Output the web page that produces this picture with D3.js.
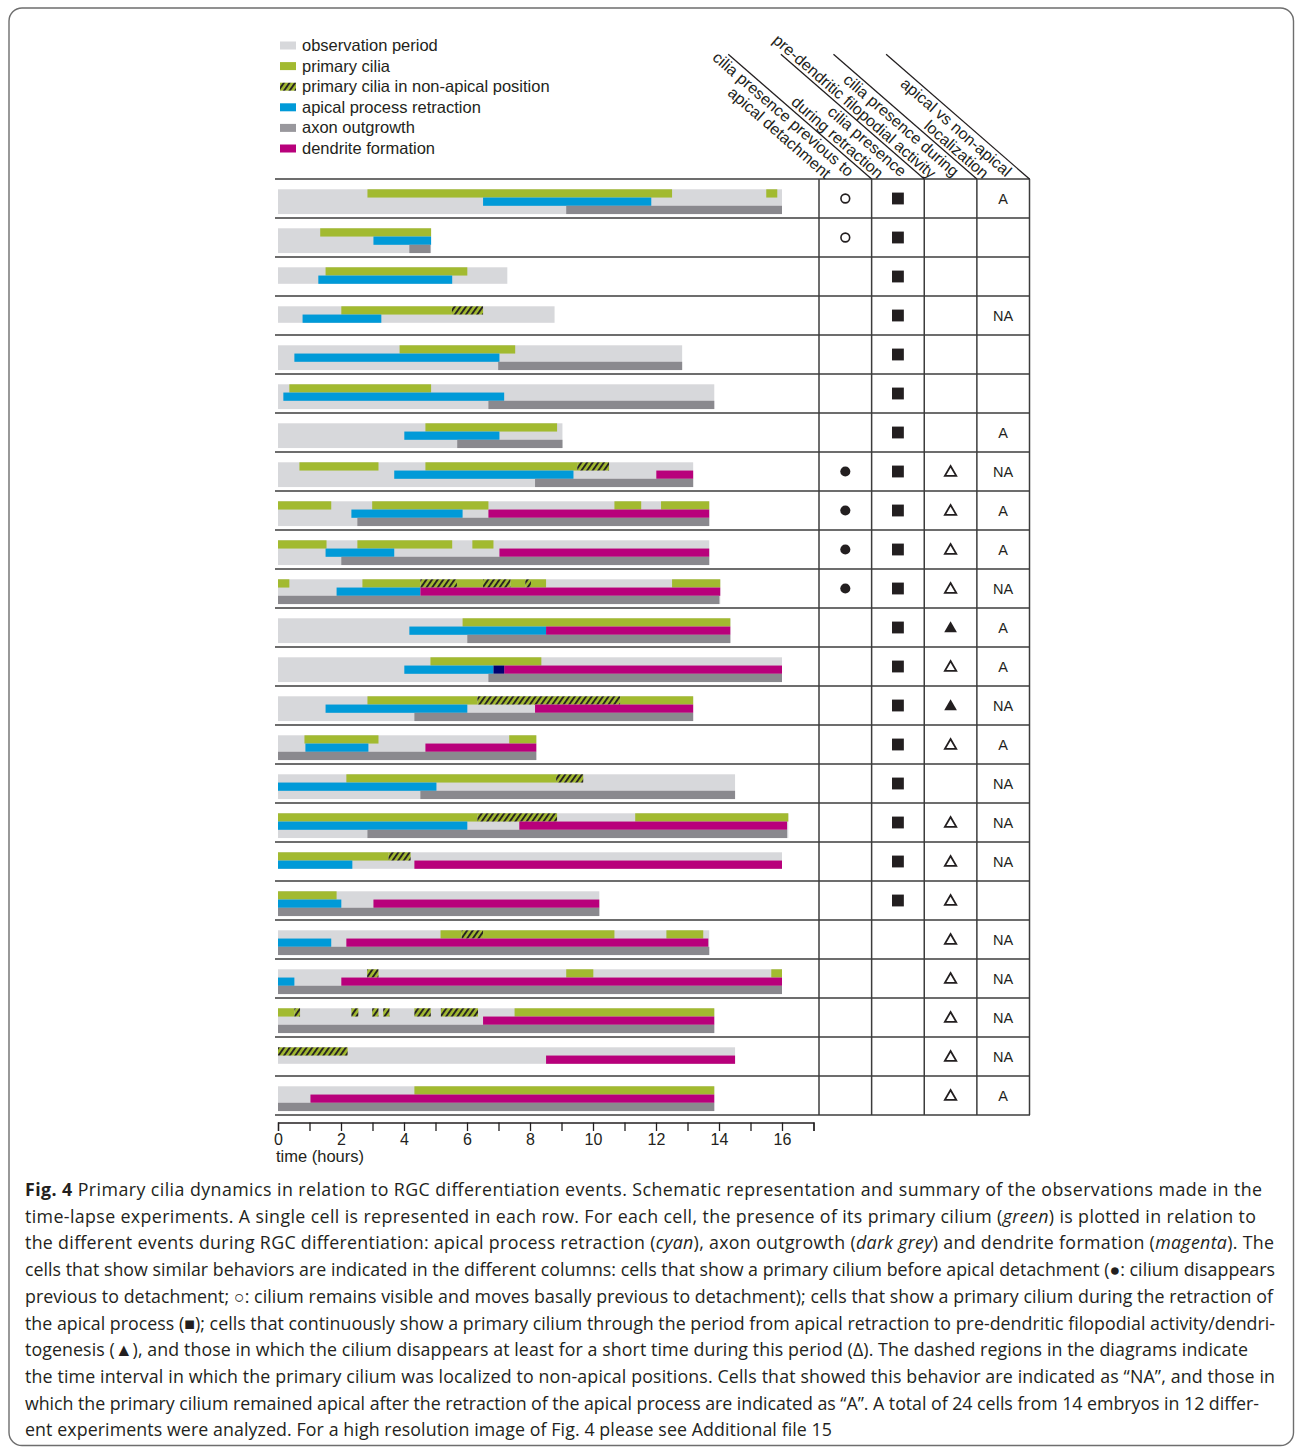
<!DOCTYPE html>
<html lang="en">
  <head>
    <meta charset="utf-8" />
    <title>Fig. 4 Primary cilia dynamics</title>
    <script src="https://d3js.org/d3.v7.min.js"></script>
    <style>
      body { margin: 0; background: #fff; }
      svg { display: block; }
      .chart text { font-family: "Liberation Sans", Arial, Helvetica, sans-serif; fill: #231f20; }
      .caption text { font-family: "Open Sans", "Noto Sans", sans-serif; fill: #231f20; white-space: pre; }
    </style>
  </head>
  <body>
    <script>
      // ---- data (hours), one entry per cell / row ----
      var obsEnd = [16, 4.86, 7.28, 8.78, 12.83, 13.85, 9.03, 13.18, 13.69, 13.69, 14.04, 14.36,
                    16, 13.18, 8.2, 14.51, 16.2, 16, 10.2, 13.69, 16, 13.85, 14.51, 13.85];

      var cilia = [
        [[2.84, 12.51], [15.5, 15.85]],
        [[1.34, 4.86]],
        [[1.51, 6.01]],
        [[2.01, 5.52]],
        [[3.86, 7.53]],
        [[0.36, 4.86]],
        [[4.68, 8.86]],
        [[0.68, 3.19], [4.68, 9.5]],
        [[0, 1.69], [2.99, 6.68], [10.68, 11.53], [12.16, 13.69]],
        [[0, 1.54], [2.52, 5.53], [6.17, 6.84]],
        [[0, 0.36], [2.68, 4.52], [5.68, 6.51], [7.38, 7.85], [8.03, 8.51], [12.51, 14.04]],
        [[5.86, 14.36]],
        [[4.84, 8.36]],
        [[2.84, 6.33], [10.86, 13.18]],
        [[0.84, 3.19], [7.34, 8.2]],
        [[2.17, 8.83]],
        [[0, 6.33], [11.34, 16.2]],
        [[0, 3.51]],
        [[0, 1.86]],
        [[5.16, 5.83], [6.51, 10.68], [12.33, 13.5]],
        [[9.15, 10.01], [15.66, 16]],
        [[0, 0.52], [7.51, 13.85]],
        [],
        [[4.33, 13.85]]
      ];

      // primary cilia in non-apical position (hatched)
      var nonApical = [
        [], [], [], [[5.52, 6.51]], [], [], [], [[9.5, 10.51]], [], [],
        [[4.52, 5.68], [6.51, 7.38], [7.85, 8.03]],
        [], [], [[6.33, 10.86]], [], [[8.83, 9.69]], [[6.33, 8.86]], [[3.51, 4.21]], [],
        [[5.83, 6.51]], [[2.83, 3.19]],
        [[0.52, 0.7], [2.33, 2.55], [2.99, 3.19], [3.34, 3.54], [4.33, 4.85], [5.17, 6.35]],
        [[0, 2.21]], []
      ];

      var retraction = [[6.51, 11.85], [3.03, 4.86], [1.28, 5.53], [0.78, 3.28], [0.52, 7.03],
                        [0.17, 7.18], [4.01, 7.03], [3.69, 9.38], [2.33, 5.86], [1.51, 3.69],
                        [1.86, 4.52], [4.17, 8.51], [4.01, 6.84], [1.51, 6.01], [0.87, 2.87],
                        [0, 5.03], [0, 6.01], [0, 2.36], [0, 2.01], [0, 1.69], [0, 0.52],
                        null, null, null];

      // short overlap of retraction and dendrite onset (row 13)
      var overlap = [null, null, null, null, null, null, null, null, null, null, null, null,
                     [6.84, 7.18], null, null, null, null, null, null, null, null, null, null, null];

      var dendrite = [null, null, null, null, null, null, null, [12.01, 13.18], [6.68, 13.69],
                      [7.03, 13.69], [4.52, 14.04], [8.51, 14.36], [7.18, 16], [8.16, 13.18],
                      [4.68, 8.2], null, [7.66, 16.16], [4.33, 16], [3.03, 10.2], [2.17, 13.66],
                      [2.01, 16], [6.51, 13.85], [8.51, 14.51], [1.03, 13.85]];

      var axon = [[9.15, 16], [4.17, 4.84], null, null, [6.99, 12.83], [6.68, 13.85], [5.69, 9.03],
                  [8.16, 13.18], [2.52, 13.69], [2.01, 13.69], [0, 14.01], [6.01, 14.36], [6.68, 16],
                  [4.33, 13.18], [0, 8.2], [4.52, 14.51], [2.84, 16.16], null, [0, 10.2], [0, 13.69],
                  [0, 16], [0, 13.85], null, [0, 13.85]];

      // ---- table columns ----
      var detachment = ["open", "open", null, null, null, null, null, "filled", "filled", "filled", "filled",
                        null, null, null, null, null, null, null, null, null, null, null, null, null];
      var duringRetraction = ["sq", "sq", "sq", "sq", "sq", "sq", "sq", "sq", "sq", "sq", "sq", "sq",
                              "sq", "sq", "sq", "sq", "sq", "sq", "sq", null, null, null, null, null];
      var filopodial = [null, null, null, null, null, null, null, "open", "open", "open", "open", "filled",
                        "open", "filled", "open", null, "open", "open", "open", "open", "open", "open", "open", "open"];
      var localization = ["A", "", "", "NA", "", "", "A", "NA", "A", "A", "NA", "A",
                          "A", "NA", "A", "NA", "NA", "NA", "", "NA", "NA", "NA", "NA", "A"];

      var headers = [
        ["cilia presence previous to", "apical detachment"],
        ["cilia presence", "during retraction"],
        ["cilia presence during", "pre-dendritic filopodial activity"],
        ["apical vs non-apical", "localization"]
      ];

      var legendLabels = ["observation period", "primary cilia", "primary cilia in non-apical position",
                          "apical process retraction", "axon outgrowth", "dendrite formation"];

      var tickLabels = [0, 2, 4, 6, 8, 10, 12, 14, 16];

      var captionLines = [
        "**Fig. 4** Primary cilia dynamics in relation to RGC differentiation events. Schematic representation and summary of the observations made in the",
        "time-lapse experiments. A single cell is represented in each row. For each cell, the presence of its primary cilium (_green_) is plotted in relation to",
        "the different events during RGC differentiation: apical process retraction (_cyan_), axon outgrowth (_dark grey_) and dendrite formation (_magenta_). The",
        "cells that show similar behaviors are indicated in the different columns: cells that show a primary cilium before apical detachment (\u25CF: cilium disappears",
        "previous to detachment; \u25CB: cilium remains visible and moves basally previous to detachment); cells that show a primary cilium during the retraction of",
        "the apical process (\u25A0); cells that continuously show a primary cilium through the period from apical retraction to pre-dendritic filopodial activity/dendri-",
        "togenesis (\u25B2), and those in which the cilium disappears at least for a short time during this period (\u0394). The dashed regions in the diagrams indicate",
        "the time interval in which the primary cilium was localized to non-apical positions. Cells that showed this behavior are indicated as \u201CNA\u201D, and those in",
        "which the primary cilium remained apical after the retraction of the apical process are indicated as \u201CA\u201D. A total of 24 cells from 14 embryos in 12 differ-",
        "ent experiments were analyzed. For a high resolution image of Fig. 4 please see Additional file 15"
      ];
      var captionEnds = [1262, 1256, 1274, 1275, 1273, 1275, 1248, 1275, 1259, 832];

      // ---- layout ----
      var w = 1295;
      var h = 1449;
      var colors = {
        obs: "#d7d8db", cilia: "#a2ba30", retraction: "#009ad8",
        axon: "#8a898e", dendrite: "#b8007b", overlap: "#010170"
      };

      var svg = d3.select("body").append("svg")
        .attr("width", w)
        .attr("height", h);

      var defs = svg.append("defs");
      var hatch = defs.append("pattern")
        .attr("id", "hatch")
        .attr("patternUnits", "userSpaceOnUse")
        .attr("width", 4.6)
        .attr("height", 4.6)
        .attr("patternTransform", "rotate(35)");
      hatch.append("rect").attr("width", 4.6).attr("height", 4.6).attr("fill", colors.cilia);
      hatch.append("line").attr("x1", 1).attr("y1", 0).attr("x2", 1).attr("y2", 4.6)
        .attr("stroke", "#231f20").attr("stroke-width", 1.9);

      // frame
      svg.append("rect")
        .attr("x", 9).attr("y", 8).attr("width", 1284.5).attr("height", 1437.5)
        .attr("rx", 13).attr("fill", "none").attr("stroke", "#6e6e6e").attr("stroke-width", 1.4);

      var chart = svg.append("g").attr("class", "chart");

      var x = d3.scaleLinear().domain([0, 17]).range([278, 813.5]);
      var rowScale = d3.scaleBand().domain(d3.range(obsEnd.length)).range([179, 1115]);
      var colScale = d3.scaleBand().domain(d3.range(headers.length)).range([819, 1029.5]);
      var lineTop = 10.3;
      var lineH = 8.25;

      function lineY(row, line) {
        return rowScale(row) + lineTop + line * lineH;
      }

      function flatten(arr) {
        var out = [];
        arr.forEach(function (spans, i) {
          if (!spans) return;
          if (typeof spans[0] === "number") spans = [spans];
          spans.forEach(function (s) { out.push({ row: i, s: s[0], e: s[1] }); });
        });
        return out;
      }

      function drawSpans(data, line, fill) {
        chart.append("g")
          .selectAll("rect")
          .data(flatten(data))
          .enter()
          .append("rect")
          .attr("x", function (d) { return x(d.s); })
          .attr("y", function (d) { return lineY(d.row, line); })
          .attr("width", function (d) { return x(d.e) - x(d.s); })
          .attr("height", lineH)
          .attr("fill", fill);
      }

      // observation period (covers 3 lines if axon is drawn, else 2)
      chart.append("g")
        .selectAll("rect")
        .data(obsEnd)
        .enter()
        .append("rect")
        .attr("x", x(0))
        .attr("y", function (d, i) { return lineY(i, 0); })
        .attr("width", function (d) { return x(d) - x(0); })
        .attr("height", function (d, i) { return lineH * (axon[i] ? 3 : 2); })
        .attr("fill", colors.obs);

      drawSpans(cilia, 0, colors.cilia);
      drawSpans(nonApical, 0, "url(#hatch)");
      drawSpans(retraction, 1, colors.retraction);
      drawSpans(dendrite, 1, colors.dendrite);
      drawSpans(overlap, 1, colors.overlap);
      drawSpans(axon, 2, colors.axon);

      // table grid
      var gridColor = "#3c3c3c";
      chart.append("g")
        .selectAll("line")
        .data(d3.range(obsEnd.length + 1))
        .enter()
        .append("line")
        .attr("x1", 275)
        .attr("x2", 1030)
        .attr("y1", function (d) { return d < obsEnd.length ? rowScale(d) : rowScale.range()[1]; })
        .attr("y2", function (d) { return d < obsEnd.length ? rowScale(d) : rowScale.range()[1]; })
        .attr("stroke", gridColor)
        .attr("stroke-width", 1.7);

      var colEdges = colScale.domain().map(function (c) { return colScale(c); })
        .concat([colScale.range()[1]]);
      chart.append("g")
        .selectAll("line")
        .data(colEdges)
        .enter()
        .append("line")
        .attr("x1", function (d) { return d; })
        .attr("x2", function (d) { return d; })
        .attr("y1", rowScale.range()[0])
        .attr("y2", rowScale.range()[1])
        .attr("stroke", gridColor)
        .attr("stroke-width", 1.5);

      // header diagonals and labels
      var angle = 41;
      var lineLen = 190;
      var rad = angle * Math.PI / 180;
      var head = chart.append("g")
        .selectAll("g")
        .data(headers)
        .enter()
        .append("g")
        .attr("transform", function (d, i) {
          return "translate(" + (colScale(i) + colScale.bandwidth()) + "," + rowScale.range()[0] + ")";
        });
      head.append("line")
        .attr("x1", 0).attr("y1", 0)
        .attr("x2", -lineLen * Math.cos(rad))
        .attr("y2", -lineLen * Math.sin(rad))
        .attr("stroke", "#231f20")
        .attr("stroke-width", 1.3);
      var headText = head.append("g").attr("transform", "rotate(" + angle + ")");
      headText.append("text")
        .attr("x", -19).attr("y", 14.5)
        .attr("text-anchor", "end")
        .attr("font-size", "16px")
        .text(function (d) { return d[0]; });
      headText.append("text")
        .attr("x", -35).attr("y", 31)
        .attr("text-anchor", "end")
        .attr("font-size", "16px")
        .text(function (d) { return d[1]; });

      // table symbols
      function cellY(i) { return rowScale(i) + 19.5; }
      function cellX(c) { return colScale(c) + colScale.bandwidth() / 2; }

      var symbolGroup = chart.append("g");
      detachment.forEach(function (d, i) {
        if (!d) return;
        symbolGroup.append("path")
          .attr("d", d3.symbol().type(d3.symbolCircle).size(d === "open" ? 60 : 80)())
          .attr("transform", "translate(" + cellX(0) + "," + cellY(i) + ")")
          .attr("fill", d === "open" ? "none" : "#231f20")
          .attr("stroke", "#231f20")
          .attr("stroke-width", d === "open" ? 1.6 : 0);
      });
      duringRetraction.forEach(function (d, i) {
        if (!d) return;
        symbolGroup.append("path")
          .attr("d", d3.symbol().type(d3.symbolSquare).size(140)())
          .attr("transform", "translate(" + cellX(1) + "," + cellY(i) + ")")
          .attr("fill", "#231f20");
      });
      filopodial.forEach(function (d, i) {
        if (!d) return;
        symbolGroup.append("path")
          .attr("d", d3.symbol().type(d3.symbolTriangle).size(d === "open" ? 56 : 70)())
          .attr("transform", "translate(" + cellX(2) + "," + (cellY(i) + 1) + ")")
          .attr("fill", d === "open" ? "none" : "#231f20")
          .attr("stroke", "#231f20")
          .attr("stroke-width", d === "open" ? 1.8 : 0);
      });
      chart.append("g")
        .selectAll("text")
        .data(localization)
        .enter()
        .append("text")
        .attr("x", cellX(3))
        .attr("y", function (d, i) { return rowScale(i) + 24.5; })
        .attr("text-anchor", "middle")
        .attr("font-size", "14.5px")
        .text(function (d) { return d; });

      // time axis
      var axis = d3.axisBottom(x)
        .tickValues(d3.range(0, 18))
        .tickSize(8.5)
        .tickFormat(function (d) { return tickLabels.indexOf(d) >= 0 ? d : ""; });
      var axisG = chart.append("g")
        .attr("transform", "translate(0,1122.5)")
        .call(axis);
      axisG.select(".domain").attr("stroke", "#231f20").attr("stroke-width", 1.3);
      axisG.selectAll(".tick line").attr("stroke", "#231f20").attr("stroke-width", 1.3);
      axisG.selectAll(".tick text")
        .attr("font-family", "'Liberation Sans', Arial, sans-serif")
        .attr("font-size", "16px")
        .attr("fill", "#231f20");

      chart.append("text")
        .attr("x", 276)
        .attr("y", 1162)
        .attr("font-size", "16.5px")
        .text("time (hours)");

      // legend
      var legendFills = [colors.obs, colors.cilia, "url(#hatch)", colors.retraction, "#99989d", colors.dendrite];
      var legend = chart.append("g")
        .selectAll("g")
        .data(legendLabels)
        .enter()
        .append("g")
        .attr("transform", function (d, i) { return "translate(280," + (45.5 + i * 20.6) + ")"; });
      legend.append("rect")
        .attr("x", 0).attr("y", -4)
        .attr("width", 16).attr("height", 8)
        .attr("fill", function (d, i) { return legendFills[i]; });
      legend.append("text")
        .attr("x", 22).attr("y", 5.5)
        .attr("font-size", "16.5px")
        .text(function (d) { return d; });

      // caption
      var caption = svg.append("g").attr("class", "caption");
      captionLines.forEach(function (line, i) {
        var t = caption.append("text")
          .attr("x", 25)
          .attr("y", 1196 + i * 26.7)
          .attr("font-size", "17.8px");
        line.split(/(\*\*[^*]+\*\*|_[^_]+_)/).filter(Boolean).forEach(function (part) {
          var ts = t.append("tspan");
          if (part.indexOf("**") === 0) {
            ts.attr("font-weight", "bold").text(part.slice(2, -2));
          } else if (part.charAt(0) === "_") {
            ts.attr("font-style", "italic").text(part.slice(1, -1));
          } else {
            ts.text(part);
          }
        });
        t.attr("textLength", captionEnds[i] - 25).attr("lengthAdjust", "spacing");
      });
    </script>
  </body>
</html>
